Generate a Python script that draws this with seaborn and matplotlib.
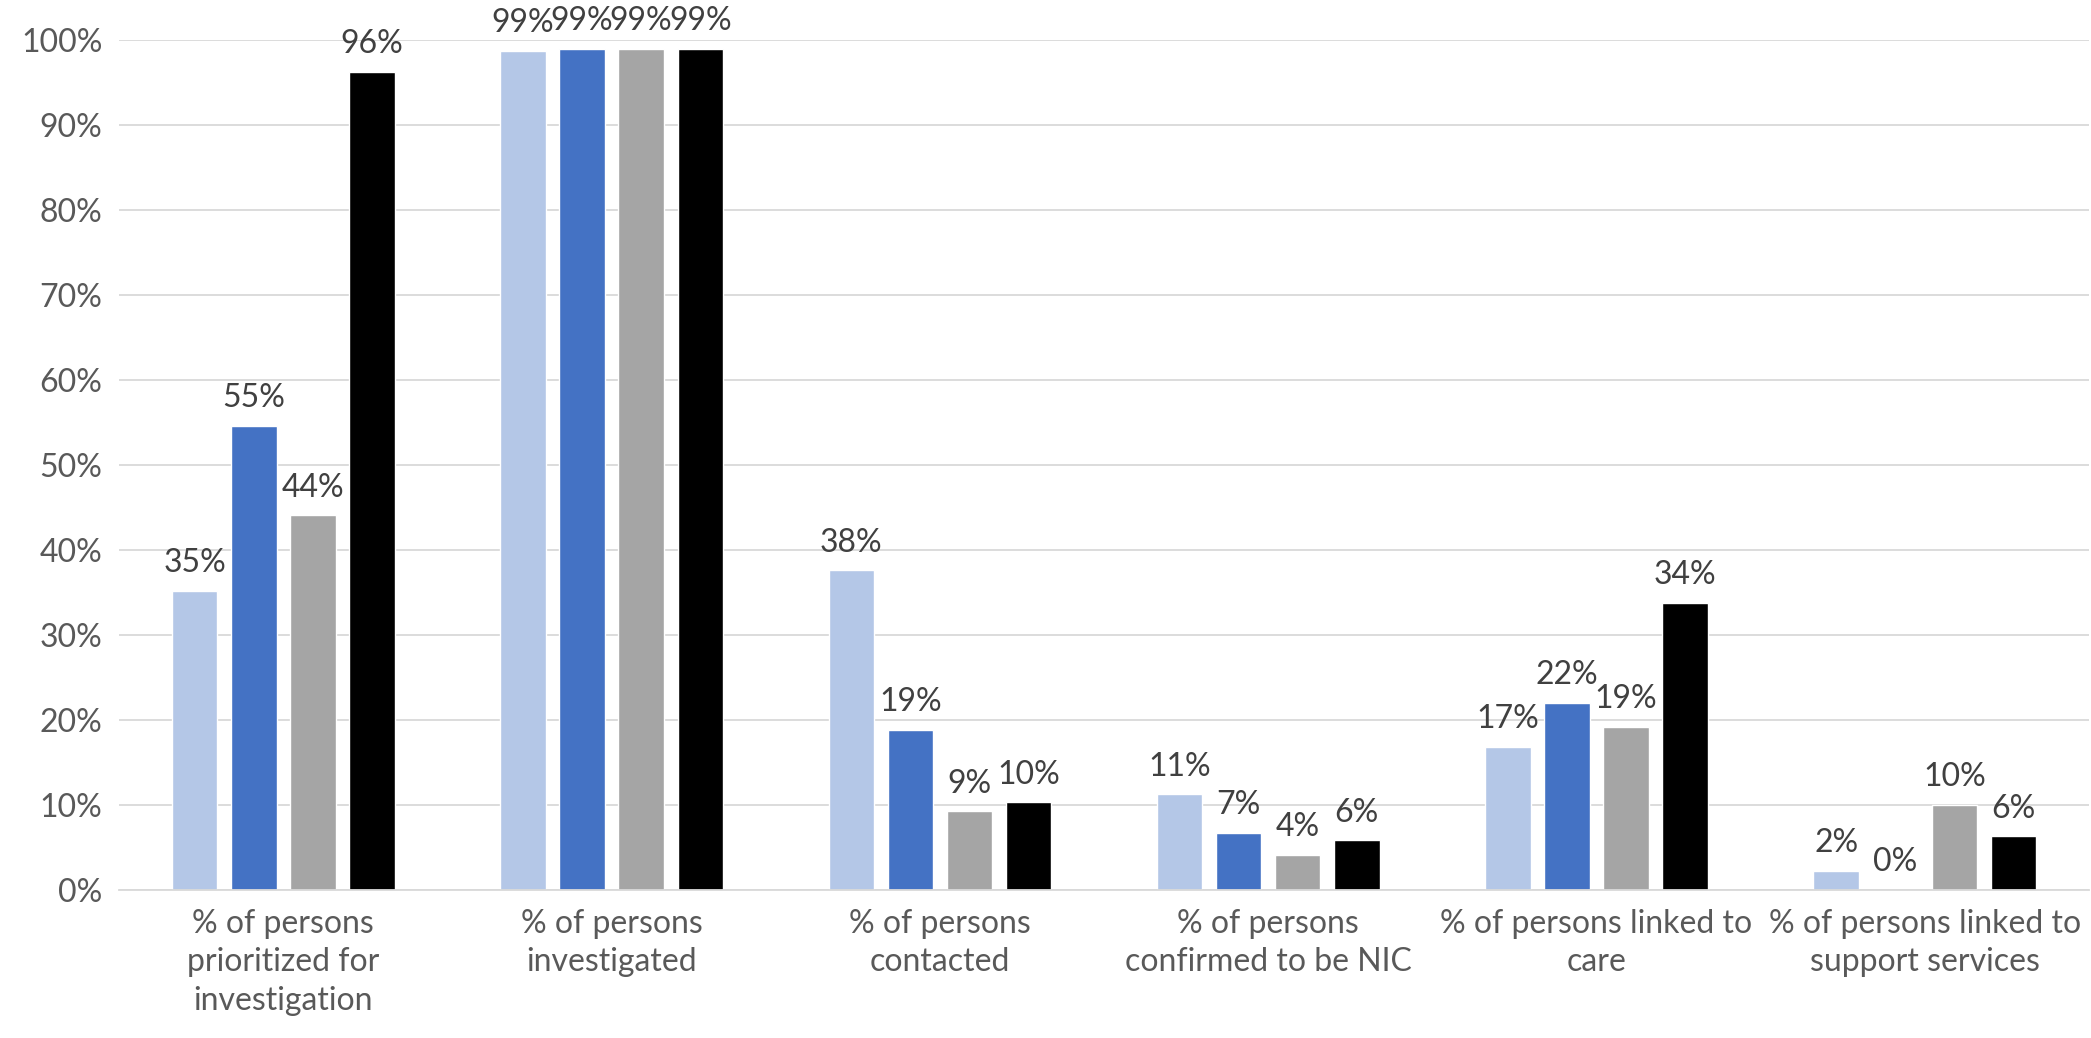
import numpy as np
import pandas as pd
import seaborn as sns
import matplotlib.pyplot as plt
from matplotlib.ticker import FuncFormatter

categories = ['% of persons\nprioritized for\ninvestigation',
              '% of persons\ninvestigated',
              '% of persons\ncontacted',
              '% of persons\nconfirmed to be NIC',
              '% of persons linked to\ncare',
              '% of persons linked to\nsupport services']
series = ['Series 1', 'Series 2', 'Series 3', 'Series 4']
s1 = [35.2, 98.8, 37.6, 11.2, 16.8, 2.2]
s2 = [54.6, 99.0, 18.8, 6.7, 22.0, 0.0]
s3 = [44.1, 99.0, 9.2, 4.1, 19.2, 10.0]
s4 = [96.3, 99.0, 10.3, 5.8, 33.8, 6.3]
colors = ['#B4C7E7', '#4472C4', '#A5A5A5', '#000000']

rows = []
for name, vals in zip(series, [s1, s2, s3, s4]):
    for c, v in zip(categories, vals):
        rows.append({'category': c, 'series': name, 'value': v})
df = pd.DataFrame(rows)

sns.set_style('white')
plt.rcParams['font.family'] = ['Lato', 'DejaVu Sans']

fig, ax = plt.subplots(figsize=(20.91, 10.38), dpi=100)
fig.subplots_adjust(left=0.057, right=0.999, bottom=0.143, top=0.961)

sns.barplot(data=df, x='category', y='value', hue='series', palette=colors,
            width=0.72, gap=0.23, saturation=1, legend=False, ax=ax)

for cont in ax.containers:
    ax.bar_label(cont, labels=[f'{b.get_height():.0f}%' for b in cont],
                 padding=9, fontsize=23, color='#404040')

ax.set_ylim(0, 100)
ax.set_yticks(np.arange(0, 101, 10))
ax.yaxis.set_major_formatter(FuncFormatter(lambda v, p: f'{v:.0f}%'))
ax.yaxis.grid(True, color='#D9D9D9', linewidth=1.3)
ax.set_axisbelow(True)
ax.set_xlabel('')
ax.set_ylabel('')
for s in ['left', 'right', 'top']:
    ax.spines[s].set_visible(False)
ax.spines['bottom'].set_color('#D9D9D9')
ax.spines['bottom'].set_linewidth(1.3)
ax.tick_params(axis='both', length=0, labelsize=23, labelcolor='#595959')
ax.tick_params(axis='x', pad=14)
ax.tick_params(axis='y', pad=12)
for t in ax.get_xticklabels():
    t.set_linespacing(1.35)
ax.set_xlim(-0.5, 5.5)

plt.savefig('out.png')
plt.close()
